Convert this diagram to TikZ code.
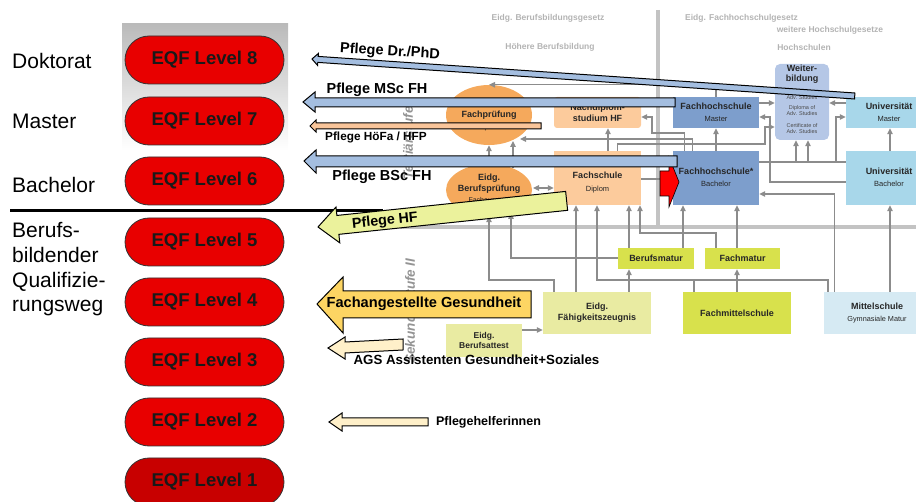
\documentclass[tikz,border=0pt]{standalone}
\usepackage{fontspec}
\setmainfont{Liberation Sans}
\usetikzlibrary{arrows.meta,shapes.geometric}
\definecolor{cOr}{HTML}{F5A95C}
\definecolor{cPe}{HTML}{FCCB9C}
\definecolor{cFH}{HTML}{7D9ECC}
\definecolor{cWB}{HTML}{B5C7E6}
\definecolor{cUni}{HTML}{A8D7EA}
\definecolor{cMS}{HTML}{D6EAF3}
\definecolor{cGr}{HTML}{D8E14C}
\definecolor{cPa}{HTML}{E9EBA2}
\definecolor{cLine}{HTML}{8C8C8C}
\definecolor{cStruct}{HTML}{C3C3C3}
\definecolor{cHead}{HTML}{B3B3B3}
\definecolor{cBlue}{HTML}{A4BEE0}
\definecolor{cHoe}{HTML}{F9C59A}
\definecolor{cHF}{HTML}{EBF29C}
\definecolor{cFaGe}{HTML}{FDD563}
\definecolor{cCream}{HTML}{FFF0C9}
\definecolor{cRed}{HTML}{E80000}
\definecolor{cRedD}{HTML}{C80000}
\begin{document}
\begin{tikzpicture}[x=1pt,y=-1pt,
  gline/.style={draw=cLine, line width=1.1pt},
  garrow/.style={gline, -{Triangle[length=6pt,width=5.5pt]}},
  gdarrow/.style={gline, {Triangle[length=6pt,width=5.5pt]}-{Triangle[length=6pt,width=5.5pt]}},
  structline/.style={draw=cStruct, line width=4pt},
  shapebox/.style={inner sep=0pt, draw=none},
  bxtext/.style={inner sep=0pt, align=center, text=black!85, font=\fontsize{9}{11}\selectfont\bfseries},
  hdr/.style={inner sep=0pt, text=cHead, font=\fontsize{8.5}{10}\selectfont\bfseries},
  pill/.style={draw=black!80, line width=0.8pt, rounded corners=24pt, minimum width=159pt, minimum height=48pt, inner sep=0pt, font=\fontsize{18.5}{20}\selectfont\bfseries, text=black!90},
  lefttext/.style={anchor=base west, inner sep=0pt, font=\fontsize{21}{25}\selectfont},
  ovl/.style={draw=black, line width=1pt, line join=miter},
  ovtext/.style={inner sep=0pt},
  wbsmall/.style={inner sep=0pt, text=black!70, font=\fontsize{5.5}{6}\selectfont}
]
\useasboundingbox (0,0) rectangle (916,502);
\clip (0,0) rectangle (916,502);

% ---------------- left part ----------------
\shade[top color=black!27, bottom color=white] (122,24) rectangle (288,150);
\node[lefttext] (tdok) at (12,69) {Doktorat};
\node[lefttext] (tmas) at (12,129) {Master};
\node[lefttext] (tbac) at (12,193) {Bachelor};
\node[lefttext] (tb1) at (12,238) {Berufs-};
\node[lefttext] (tb2) at (12,263) {bildender};
\node[lefttext] (tb3) at (12,288) {Qualifizie-};
\node[lefttext] (tb4) at (12,312) {rungsweg};

\node[pill, fill=cRed] (l8) at (204.5,60) {EQF Level 8};
\node[pill, fill=cRed] (l7) at (204.5,121) {EQF Level 7};
\node[pill, fill=cRed] (l6) at (204.5,181) {EQF Level 6};
\node[pill, fill=cRed] (l5) at (204.5,242) {EQF Level 5};
\node[pill, fill=cRed] (l4) at (204.5,302) {EQF Level 4};
\node[pill, fill=cRed] (l3) at (204.5,362) {EQF Level 3};
\node[pill, fill=cRed] (l2) at (204.5,422) {EQF Level 2};
\node[pill, fill=cRedD] (l1) at (204.5,482) {EQF Level 1};

\coordinate (bl1) at (10,210.5);
\coordinate (bl2) at (383,210.5);
\draw[line width=3pt] (bl1) -- (bl2);

% ---------------- background diagram ----------------
\coordinate (sv1) at (658,10);
\coordinate (sv2) at (658,227);
\coordinate (sh1) at (400,227);
\coordinate (sh2) at (916,227);
\draw[structline] (sv1) -- (sv2);
\draw[structline] (sh1) -- (sh2);

\node[hdr] (h1) at (548,18) {Eidg. Berufsbildungsgesetz};
\node[hdr, anchor=west] (h2) at (685,18) {Eidg. Fachhochschulgesetz};
\node[hdr] (h3) at (830,30) {weitere Hochschulgesetze};
\node[hdr] (h4) at (550,47) {Höhere Berufsbildung};
\node[hdr] (h5) at (804,47) {Hochschulen};

\node[inner sep=0pt, rotate=90, text=black!42, font=\fontsize{13.5}{15}\selectfont\bfseries\itshape] (tert) at (408,143) {Tertiärstufe};
\node[inner sep=0pt, rotate=90, text=black!42, font=\fontsize{13.5}{15}\selectfont\bfseries\itshape] (sek) at (410,311) {Sekundarstufe II};

% shapes
\node[shapebox, ellipse, fill=cOr, minimum width=86pt, minimum height=60pt] (fp) at (489,115) {};
\node[bxtext, font=\fontsize{9}{12}\selectfont\bfseries] (fpt) at (489,115) {Eidg.\\Fachprüfung\\{\fontsize{7}{8}\selectfont\mdseries Diplom}};
\node[shapebox, ellipse, fill=cOr, minimum width=86pt, minimum height=52pt] (bp) at (489,190) {};
\node[bxtext, font=\fontsize{9}{11}\selectfont\bfseries] (bpt) at (489,188) {Eidg.\\Berufsprüfung\\{\fontsize{7}{8}\selectfont\mdseries Fachausweis}};

\node[shapebox, fill=cPe, rounded corners=3pt, minimum width=87pt, minimum height=31pt] (nd) at (597.5,112.5) {};
\node[bxtext] (ndt) at (597.5,112.5) {Nachdiplom-\\studium HF};
\node[shapebox, fill=cPe, minimum width=87pt, minimum height=54pt] (hf) at (597.5,178) {};
\node[bxtext, font=\fontsize{9}{13}\selectfont\bfseries] (hft) at (597.5,176) {Höhere\\Fachschule\\{\fontsize{7.5}{8}\selectfont\mdseries Diplom}};

\node[shapebox, fill=cFH, minimum width=86pt, minimum height=31pt] (fhm) at (716,112.5) {};
\node[bxtext, font=\fontsize{9}{12}\selectfont\bfseries] (fhmt) at (716,112.5) {Fachhochschule\\{\fontsize{7.5}{8}\selectfont\mdseries Master}};
\node[shapebox, fill=cFH, minimum width=86pt, minimum height=54pt] (fhb) at (716,178) {};
\node[bxtext, font=\fontsize{9}{12}\selectfont\bfseries] (fhbt) at (716,177.5) {Fachhochschule*\\{\fontsize{7.5}{8}\selectfont\mdseries Bachelor}};

\node[shapebox, fill=cWB, rounded corners=5pt, minimum width=54pt, minimum height=76pt] (wb) at (802,102) {};
\node[bxtext, anchor=north, font=\fontsize{9}{9.5}\selectfont\bfseries] (wbt) at (802,65) {Weiter-\\bildung};
\node[wbsmall] (wb1) at (802,98) {Adv. Studies};
\node[wbsmall, align=center] (wb2) at (802,111) {Diploma of\\Adv. Studies};
\node[wbsmall, align=center] (wb3) at (802,129) {Certificate of\\Adv. Studies};

\node[shapebox, fill=cUni, minimum width=88pt, minimum height=31pt] (um) at (890,112.5) {};
\node[bxtext, font=\fontsize{9}{12}\selectfont\bfseries] (umt) at (889,112.5) {Universität\\{\fontsize{7.5}{8}\selectfont\mdseries Master}};
\node[shapebox, fill=cUni, minimum width=88pt, minimum height=54pt] (ub) at (890,178) {};
\node[bxtext, font=\fontsize{9}{12}\selectfont\bfseries] (ubt) at (889,177.5) {Universität\\{\fontsize{7.5}{8}\selectfont\mdseries Bachelor}};

\node[shapebox, fill=cGr, minimum width=76pt, minimum height=21pt] (bm) at (656,258.5) {};
\node[bxtext] (bmt) at (656,258.5) {Berufsmatur};
\node[shapebox, fill=cGr, minimum width=75pt, minimum height=21pt] (fm) at (742.5,258.5) {};
\node[bxtext] (fmt) at (742.5,258.5) {Fachmatur};

\node[shapebox, fill=cPa, minimum width=108pt, minimum height=42pt] (efz) at (597,313) {};
\node[bxtext] (efzt) at (597,313) {Eidg.\\Fähigkeitszeugnis};
\node[shapebox, fill=cGr, minimum width=108pt, minimum height=42pt] (fms) at (737,313) {};
\node[bxtext] (fmst) at (737,313) {Fachmittelschule};
\node[shapebox, fill=cMS, minimum width=106pt, minimum height=42pt] (ms) at (877,313) {};
\node[bxtext, font=\fontsize{9}{12}\selectfont\bfseries] (mst) at (877,313) {Mittelschule\\{\fontsize{7.3}{8}\selectfont\mdseries Gymnasiale Matur}};
\node[shapebox, fill=cPa, minimum width=76pt, minimum height=33pt] (ba) at (484,340.5) {};
\node[bxtext, font=\fontsize{8.5}{10.5}\selectfont\bfseries] (bat) at (484,340.5) {Eidg.\\Berufsattest};

% connectors
\draw[garrow] (fhm.north) |- (fp.north);
\draw[garrow] ([xshift=12pt]fhb.north west) |- (652,133) |- (nd.east |- 0,117);
\draw[garrow] ([xshift=20pt]fhb.north west) |- (520,139);
\draw[garrow] ([xshift=64pt]hf.north west) |- (765,144) |- (wb.west |- 0,127);
\draw[garrow] (fhm.east |- 0,103) -- (wb.west |- 0,103);
\draw[garrow] (um.west |- 0,103) -- (wb.east |- 0,103);
\draw[garrow] (ub.west |- 0,182) -| (770,117) -- (fhm.east |- 0,117);
\draw[garrow] (fhb.east |- 0,162) -| ([xshift=-6pt]wb.south);
\draw[garrow] (fhb.east |- 0,162) -| (836,117) -- (um.west |- 0,117);
\draw[garrow] (ub.west |- 0,162) -| ([xshift=6pt]wb.south);
\draw[garrow] (ub.north) -- (um.south);
\draw[garrow] ([xshift=11pt]ms.north west) |- (fhb.east |- 0,194);
\draw[garrow] (ub.south |- ms.north) -- (ub.south);
\draw[garrow] (737,0 |- fm.north) -- (737,0 |- fhb.south);
\draw[garrow] (683,0 |- bm.north) -- (683,0 |- fhb.south);
\draw[garrow] (716,0 |- fm.north) |- (640,233) -- (640,0 |- hf.south);
\draw[garrow] (629,0 |- bm.north) -- (629,0 |- hf.south);
\draw[garrow] (554,0 |- efz.north) |- (489,280) -- (bp.south);
\draw[garrow] (576,0 |- efz.north) -- (576,0 |- hf.south);
\draw[garrow] (629,0 |- efz.north) -- (629,0 |- bm.south);
\draw[garrow] (bm.west |- 0,258) -| (511,213);
\draw[garrow] (828,0 |- ms.north) |- (597,280) -- (597,0 |- hf.south);
\draw[gline] (694,0 |- fms.north) -- (694,280);
\draw[garrow] (737,0 |- fms.north) -- (737,0 |- fm.south);
\draw[garrow] (ba.east |- 0,330) -- (efz.west |- 0,330);
\draw[gdarrow] (533,188) -- (hf.west |- 0,188);
\draw[garrow] (bp.north) -- (fp.south);
\draw[garrow] (513,168) -- (513,141);
\draw[gline] (hf.east |- 0,179) -- (660,179);
\draw[garrow] (fhb.north) -- (fhm.south);
\draw[garrow] (608,0 |- hf.north) -- (608,0 |- nd.south);

% red block arrow
\draw[fill=red, draw=black, line width=0.6pt, line join=miter] (660,171) -- (669,171) -- (669,157) -- (679,182) -- (669,207) -- (669,196) -- (660,196) -- cycle;

% ---------------- overlay arrows ----------------
\begin{scope}[shift={(312,59)}, rotate=-3.9]
\draw[ovl, fill=cBlue] (0,0) -- (6,-6) -- (6,-3) -- (544,-3) -- (544,3) -- (6,3) -- (6,6) -- cycle;
\end{scope}
\node[ovtext, rotate=-3.5, font=\fontsize{14.5}{16}\selectfont\bfseries] (tphd) at (390,52) {Pflege Dr./PhD};

\draw[ovl, fill=cBlue] (303,102) -- (315,92) -- (315,98) -- (675,98) -- (675,107) -- (315,107) -- (315,112) -- cycle;
\node[ovtext, font=\fontsize{14.5}{16}\selectfont\bfseries] (tmsc) at (377,89.5) {Pflege MSc FH};

\draw[ovl, fill=cHoe] (310,126) -- (316,120) -- (316,123) -- (541,123) -- (541,129) -- (316,129) -- (316,132) -- cycle;
\node[ovtext, font=\fontsize{11.8}{13}\selectfont\bfseries] (thoe) at (376,137.5) {Pflege HöFa / HFP};

\draw[ovl, fill=cBlue] (304,161) -- (316,150) -- (316,156) -- (677,156) -- (677,167) -- (316,167) -- (316,173) -- cycle;
\node[ovtext, font=\fontsize{14.5}{16}\selectfont\bfseries] (tbsc) at (382,177) {Pflege BSc FH};

\begin{scope}[shift={(318,227)}, rotate=6]
\draw[ovl, fill=cHF] (0,0) -- (20,-18) -- (20,-9.5) -- (250,-9.5) -- (250,9.5) -- (20,9.5) -- (20,18) -- cycle;
\end{scope}
\node[ovtext, rotate=6, font=\fontsize{14.3}{16}\selectfont\bfseries] (thf) at (385,221) {Pflege HF};

\draw[ovl, fill=cFaGe] (317,304) -- (343,277) -- (343,291) -- (531,291) -- (531,318) -- (343,318) -- (343,333) -- cycle;
\node[ovtext, font=\fontsize{14.6}{16}\selectfont\bfseries] (tfage) at (424,304) {Fachangestellte Gesundheit};

\draw[ovl, fill=cCream] (328,348) -- (345,337) -- (345,342) -- (403,339) -- (403,350) -- (345,353) -- (345,359) -- cycle;
\node[ovtext, font=\fontsize{13.3}{15}\selectfont\bfseries] (tags) at (476.5,360) {AGS Assistenten Gesundheit+Soziales};

\draw[ovl, fill=cCream] (329,422) -- (342,413) -- (342,418) -- (428,418) -- (428,426) -- (342,426) -- (342,431) -- cycle;
\node[ovtext, font=\fontsize{12.5}{14}\selectfont\bfseries] (tphi) at (488.5,422) {Pflegehelferinnen};
\end{tikzpicture}
\end{document}
